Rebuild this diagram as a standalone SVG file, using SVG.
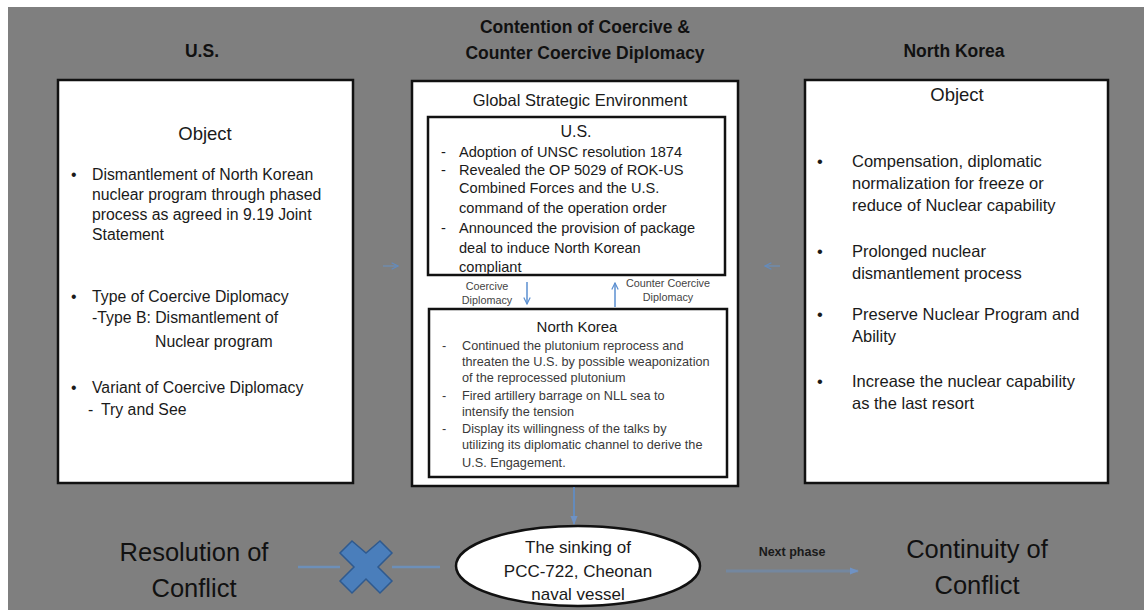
<svg xmlns="http://www.w3.org/2000/svg" width="1144" height="612" viewBox="0 0 1144 612">
<defs>
<style>
text{font-family:"Liberation Sans",Arial,sans-serif;fill:#1a1a1a}
.title{font-weight:bold;font-size:17.5px;text-anchor:middle;fill:#111}
.box{fill:#fff;stroke:#111;stroke-width:2.5}
.ibox{fill:#fff;stroke:#111;stroke-width:2.5}
.tl{font-size:15.8px}
.tr{font-size:16.5px}
.t14{font-size:14.6px}
.t12{font-size:12.7px;fill:#3a3a3a}
.lab{font-size:10.8px;fill:#444;text-anchor:middle}
.mid{text-anchor:middle}
.big{font-size:25.5px;text-anchor:middle;fill:#111}
.conn{stroke:#6d8fb8;stroke-width:1.5;fill:none}
.connb{stroke:#5b8fd0;stroke-width:1.5;fill:none}
</style>
<marker id="ah" viewBox="0 0 10 10" refX="9" refY="5" markerWidth="8" markerHeight="8" orient="auto-start-reverse" markerUnits="userSpaceOnUse">
<path d="M1,1 L9,5 L1,9" fill="none" stroke="#5b8fd0" stroke-width="1.5"/>
</marker>
<marker id="ahf" viewBox="0 0 10 10" refX="9" refY="5" markerWidth="9" markerHeight="9" orient="auto" markerUnits="userSpaceOnUse">
<path d="M0,1 L10,5 L0,9 Z" fill="#6f92c4"/>
</marker>
</defs>
<rect x="0" y="0" width="1144" height="612" fill="#fff"/>
<rect x="8" y="7" width="1136" height="603" fill="#7f7f7f"/>

<g id="titles">
<text class="title" x="202" y="57">U.S.</text>
<text class="title" x="585" y="33">Contention of Coercive &amp;</text>
<text class="title" x="585" y="59">Counter Coercive Diplomacy</text>
<text class="title" x="954" y="57">North Korea</text>
</g>

<g id="us-object">
<rect class="box" x="58" y="80" width="295" height="403"/>
<text class="mid" x="205" y="140" font-size="18.5">Object</text>
<text class="tl" x="71" y="180">•</text>
<text class="tl" x="92" y="180">Dismantlement of North Korean</text>
<text class="tl" x="92" y="200">nuclear program through phased</text>
<text class="tl" x="92" y="220">process as agreed in 9.19 Joint</text>
<text class="tl" x="92" y="240">Statement</text>
<text class="tl" x="71" y="302">•</text>
<text class="tl" x="92" y="302">Type of Coercive Diplomacy</text>
<text class="tl" x="92" y="323">-Type B: Dismantlement of</text>
<text class="tl" x="155" y="347">Nuclear  program</text>
<text class="tl" x="71" y="393">•</text>
<text class="tl" x="92" y="393">Variant of Coercive Diplomacy</text>
<text class="tl" x="88" y="415">-</text>
<text class="tl" x="101" y="415">Try and See</text>
</g>

<g id="contention">
<rect class="box" x="412" y="81" width="326" height="405"/>
<text class="mid" x="580" y="106" font-size="16.5">Global Strategic Environment</text>
</g>

<g id="us-actions">
<rect class="ibox" x="428" y="117" width="297" height="158"/>
<text class="mid" x="576" y="137" font-size="16">U.S.</text>
<text class="t14" x="441" y="157">-</text>
<text class="t14" x="459" y="157">Adoption of UNSC resolution 1874</text>
<text class="t14" x="441" y="175">-</text>
<text class="t14" x="459" y="175">Revealed the OP 5029 of ROK-US</text>
<text class="t14" x="459" y="193">Combined Forces and the U.S.</text>
<text class="t14" x="459" y="213">command of the operation order</text>
<text class="t14" x="441" y="233">-</text>
<text class="t14" x="459" y="233">Announced the provision of package</text>
<text class="t14" x="459" y="253">deal to induce North Korean</text>
<text class="t14" x="459" y="272">compliant</text>
</g>

<g id="nk-actions">
<rect class="ibox" x="429" y="309" width="298" height="168"/>
<text class="mid" x="577" y="332" font-size="15">North Korea</text>
<text class="t12" x="442" y="350">-</text>
<text class="t12" x="462" y="350">Continued the plutonium reprocess  and</text>
<text class="t12" x="462" y="366">threaten the U.S. by possible weaponization</text>
<text class="t12" x="462" y="382">of the reprocessed plutonium</text>
<text class="t12" x="442" y="400">-</text>
<text class="t12" x="462" y="400">Fired artillery barrage on NLL sea  to</text>
<text class="t12" x="462" y="416">intensify the tension</text>
<text class="t12" x="442" y="433">-</text>
<text class="t12" x="462" y="433">Display its willingness  of  the talks  by</text>
<text class="t12" x="462" y="449">utilizing its diplomatic channel to derive the</text>
<text class="t12" x="462" y="467">U.S. Engagement.</text>
</g>

<g id="nk-object">
<rect class="box" x="805" y="80" width="303" height="403"/>
<text class="mid" x="957" y="101" font-size="18.5">Object</text>
<text class="tr" x="817" y="167">•</text>
<text class="tr" x="852" y="167">Compensation, diplomatic</text>
<text class="tr" x="852" y="189">normalization for freeze or</text>
<text class="tr" x="852" y="211">reduce of Nuclear capability</text>
<text class="tr" x="817" y="257">•</text>
<text class="tr" x="852" y="257">Prolonged nuclear</text>
<text class="tr" x="852" y="279">dismantlement process</text>
<text class="tr" x="817" y="320">•</text>
<text class="tr" x="852" y="320">Preserve Nuclear Program and</text>
<text class="tr" x="852" y="342">Ability</text>
<text class="tr" x="817" y="387">•</text>
<text class="tr" x="852" y="387">Increase the nuclear capability</text>
<text class="tr" x="852" y="409">as the last resort</text>
</g>

<g id="event">
<ellipse cx="578" cy="566" rx="122" ry="40" fill="#fff" stroke="#111" stroke-width="2.5"/>
<text class="mid" x="578" y="553" font-size="17">The sinking of</text>
<text class="mid" x="578" y="577" font-size="17">PCC-722, Cheonan</text>
<text class="mid" x="578" y="600" font-size="17">naval vessel</text>
</g>

<g id="resolution">
<text class="big" x="194" y="561">Resolution of</text>
<text class="big" x="194" y="597">Conflict</text>
</g>

<g id="continuity">
<text class="big" x="977" y="558">Continuity of</text>
<text class="big" x="977" y="594">Conflict</text>
</g>

<g id="blocked">
<path d="M352,541 L366,553 L380,541 L392,553 L378,567 L392,581 L380,593 L366,579 L352,593 L340,581 L354,567 L340,553 Z" fill="#4a7ebb" stroke="#2f5a8f" stroke-width="1.5"/>
</g>

<g id="connectors">
<line class="conn" x1="383" y1="266" x2="398" y2="266" marker-end="url(#ah)" opacity="0.8"/>
<line class="conn" x1="780" y1="266" x2="765" y2="266" marker-end="url(#ah)" opacity="0.8"/>
<line class="connb" x1="527" y1="282" x2="527" y2="304" marker-end="url(#ah)"/>
<text class="lab" x="487" y="290">Coercive</text>
<text class="lab" x="487" y="304">Diplomacy</text>
<line class="connb" x1="615" y1="307" x2="615" y2="283" marker-end="url(#ah)"/>
<text class="lab" x="668" y="287">Counter Coercive</text>
<text class="lab" x="668" y="301">Diplomacy</text>
<line class="connb" x1="574" y1="487" x2="574" y2="524" marker-end="url(#ahf)"/>
<line stroke="#6d8fb8" stroke-width="2.5" x1="298" y1="567" x2="340" y2="567"/>
<line stroke="#6d8fb8" stroke-width="2.5" x1="392" y1="567" x2="440" y2="567"/>
<line stroke="#74879f" stroke-width="3" x1="726" y1="571" x2="858" y2="571" marker-end="url(#ahf)"/>
<text x="792" y="556" font-family="Liberation Serif,serif" font-weight="bold" font-size="12.5" text-anchor="middle" fill="#111">Next phase</text>
</g>
</svg>
